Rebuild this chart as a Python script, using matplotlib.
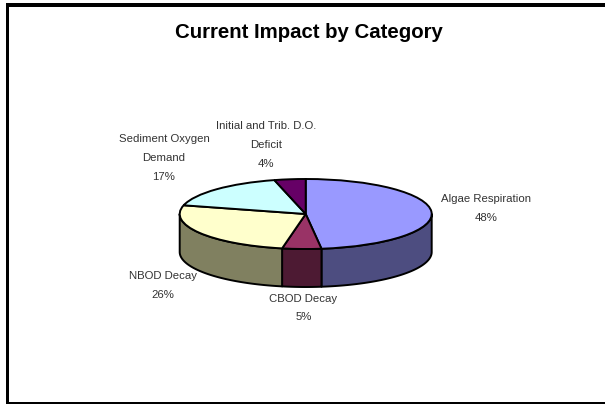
import numpy as np
import matplotlib
matplotlib.use('Agg')
import matplotlib.pyplot as plt
from matplotlib.patches import Polygon, Rectangle

plt.rcParams['font.family'] = ['Liberation Sans', 'DejaVu Sans']

# Data
label_lines = [['Algae Respiration'], ['CBOD Decay'], ['NBOD Decay'], ['Sediment Oxygen', 'Demand'], ['Initial and Trib. D.O.', 'Deficit']]
shares = [48, 5, 26, 17, 4]
top_colors = ['#9999FF', '#993366', '#FFFFCC', '#CCFFFF', '#660066']
side_colors = ['#4D4D80', '#4D1A33', '#808060', '#668080', '#330033']

# Layout in pixels
W, H = 605, 404
cx, cy, rx, ry = 305.7, 214, 126, 35
depth = 38.0 / ry
label_pos = [(486, 199), (303.5, 298.5), (163, 276), (164, 139), (266, 126)]
line_gap = 19

fig = plt.figure(figsize=(W / 100, H / 100), dpi=100, facecolor='white')

# Frame of the slide: left, top and bottom only
bg = fig.add_axes([0, 0, 1, 1])
bg.set_xlim(0, W)
bg.set_ylim(H, 0)
bg.axis('off')
bg.add_patch(Rectangle((5.5, 3), W, 4, color='black', lw=0))
bg.add_patch(Rectangle((5.5, 3), 3.5, H, color='black', lw=0))
bg.add_patch(Rectangle((5.5, 402.3), W, 1.4, color='black', lw=0))
bg.text(309, 33, 'Current Impact by Category', ha='center', va='center',
        fontsize=14.7, fontweight='bold', color='black')

# Pie, squashed by giving the axes unequal units
ax = fig.add_axes([0, 0, 1, 1])
ax.patch.set_alpha(0)
lw = 1.4

# Side wall for the slices on the front half
edges = 90 - 3.6 * np.concatenate([[0], np.cumsum(shares)])
for i in range(len(shares)):
    a0 = np.clip(edges[i], -180, 0)
    a1 = np.clip(edges[i + 1], -180, 0)
    if a0 <= a1:
        continue
    t = np.radians(np.linspace(a0, a1, 80))
    xs = np.cos(t)
    ys = np.sin(t)
    pts = np.vstack([np.column_stack([xs, ys]), np.column_stack([xs[::-1], ys[::-1] - depth])])
    ax.add_patch(Polygon(pts, closed=True, facecolor=side_colors[i], edgecolor='black', lw=lw, joinstyle='round'))

ax.pie(shares, colors=top_colors, startangle=90, counterclock=False, radius=1,
       wedgeprops={'edgecolor': 'black', 'linewidth': lw})
ax.set_aspect('auto')
ax.set_xlim(-cx / rx, (W - cx) / rx)
ax.set_ylim((cy - H) / ry, cy / ry)
ax.axis('off')

# Labels
for lines, share, (x, y) in zip(label_lines, shares, label_pos):
    for k, s in enumerate(lines + ['%d%%' % share]):
        bg.text(x, y + k * line_gap, s, ha='center', va='center', fontsize=8.2, color='#333333')

fig.savefig('out.png', dpi=100)
